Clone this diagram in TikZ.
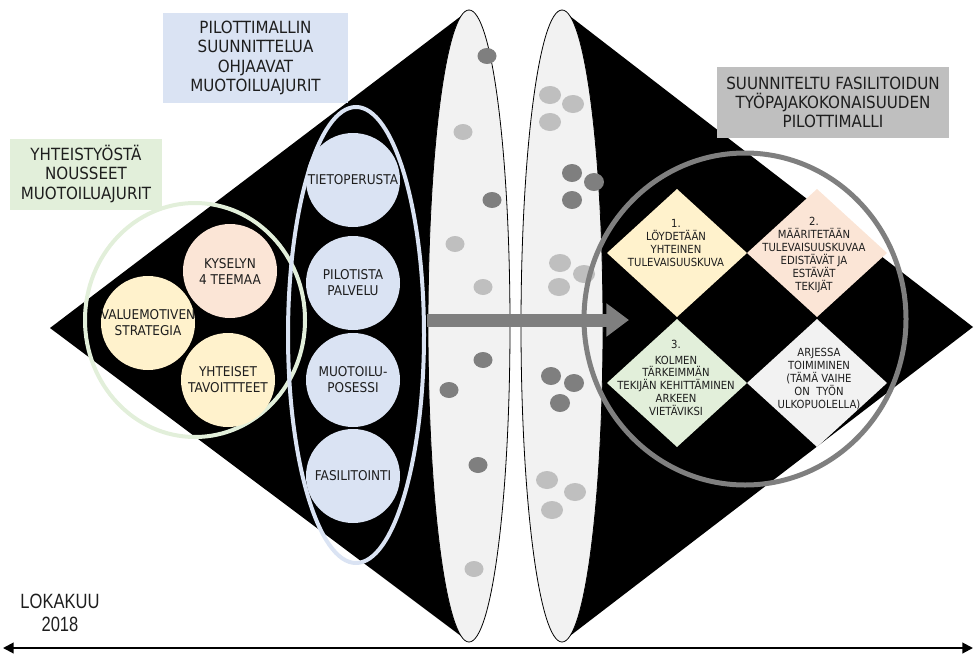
\documentclass[tikz,border=0pt]{standalone}
\usepackage{fontspec}
\setmainfont[FakeStretch=0.9]{DejaVu Sans}
\newfontfamily\narrowfont[FakeStretch=0.8]{Liberation Sans}
\usetikzlibrary{arrows.meta}

\definecolor{txt}{HTML}{1E1E1E}
\definecolor{lgreen}{HTML}{E2EFDA}
\definecolor{lblue}{HTML}{DAE3F3}
\definecolor{lgray}{HTML}{BFBFBF}
\definecolor{lpink}{HTML}{FBE5D6}
\definecolor{lyellow}{HTML}{FFF2CC}
\definecolor{paper}{HTML}{F2F2F2}
\definecolor{dotdark}{HTML}{7F7F7F}
\definecolor{dotlight}{HTML}{BFBFBF}
\definecolor{ringgray}{HTML}{7F7F7F}

% all captions are set in capitals
\newcommand{\caps}[1]{\MakeUppercase{#1}}

\tikzset{
  lbl/.style={font=\fontsize{12.6}{14.5}\selectfont, text=txt, align=center, inner sep=0pt},
  ctxt/.style={font=\fontsize{10.1}{12}\selectfont, text=txt, align=center, inner sep=0pt},
  dtxt/.style={font=\fontsize{8.4}{9.7}\selectfont, text=txt, align=center, inner sep=0pt},
  ball/.style={circle, minimum size=70.5pt, inner sep=0pt},
  darkdot/.style={fill=dotdark},
  lightdot/.style={fill=dotlight},
  band/.style={fill=paper, draw=black, line width=0.6pt},
}

\begin{document}
\begin{tikzpicture}[x=0.75pt, y=-0.75pt]
\useasboundingbox (0,0) rectangle (974,653);

% black halves of the large diamond
\fill[black] (469,10) -- (50,328) -- (469,642) -- cycle;
\fill[black] (562,10) -- (973,327) -- (562,642) -- cycle;

% the two pale vertical bands
\path[band] (469,326) ellipse [x radius=41, y radius=316];
\path[band] (562,326) ellipse [x radius=41, y radius=316];

% dots in the left band
\foreach \p in {(487,56),(492,200),(483,360),(449,390),(478,465)}
  \fill[darkdot] \p ellipse [x radius=9.5, y radius=8];
\foreach \p in {(463,132),(455,244),(483,287),(474,569)}
  \fill[lightdot] \p ellipse [x radius=9.5, y radius=8];
% dots in the right band
\foreach \p in {(550,95),(573,104),(550,122),(560,263),(584,274),(559,287),(547,480),(575,492),(552,510)}
  \fill[lightdot] \p ellipse [x radius=11, y radius=9];
\foreach \p in {(572,173),(594,182),(572,200),(551,376),(574,383),(560,403)}
  \fill[darkdot] \p ellipse [x radius=10, y radius=9];

% collaboration drivers
\draw[lgreen, line width=3pt] (195,320) ellipse [x radius=110, y radius=117];
\node[ball, fill=lpink] (kys) at (230,271) {};
\node[ctxt] at (kys) {\caps{Kyselyn}\\\caps{4 teemaa}};
\node[ball, fill=lyellow] (val) at (148,323) {};
\node[ctxt] at (val) {\caps{Valuemotiven}\\\caps{strategia}};
\node[ball, fill=lyellow] (yht) at (228,380) {};
\node[ctxt] at (yht) {\caps{Yhteiset}\\\caps{tavoittteet}};

% pilot design drivers
\draw[lblue, line width=3pt] (356,335) ellipse [x radius=68, y radius=228];
\node[ball, fill=lblue] (tie) at (353,180) {};
\node[ctxt] at (tie) {\caps{Tietoperusta}};
\node[ball, fill=lblue] (pil) at (353,283) {};
\node[ctxt] at (pil) {\caps{Pilotista}\\\caps{palvelu}};
\node[ball, fill=lblue] (muo) at (353,380) {};
\node[ctxt] at (muo) {\caps{Muotoilu-}\\\caps{posessi}};
\node[ball, fill=lblue] (fas) at (353,476) {};
\node[ctxt] at (fas) {\caps{Fasilitointi}};

% four workshop phases
\fill[lyellow] (607,253) -- (677,189) -- (747,253) -- (677,317) -- cycle;
\fill[lpink]   (747,253) -- (817,189) -- (887,253) -- (817,317) -- cycle;
\fill[lgreen]  (607,383) -- (677,319) -- (747,383) -- (677,447) -- cycle;
\fill[paper]   (747,383) -- (817,319) -- (887,383) -- (817,447) -- cycle;
\node[dtxt] (p1) at (676,243) {1.\\\caps{Löydetään}\\\caps{yhteinen}\\\caps{tulevaisuuskuva}};
\node[dtxt] (p2) at (814,255) {2.\\\caps{Määritetään}\\\caps{tulevaisuuskuvaa}\\\caps{edistävät ja}\\\caps{estävät}\\\caps{tekijät}};
\node[dtxt] (p3) at (676,378) {3.\\[2pt]\caps{Kolmen}\\\caps{tärkeimmän}\\\caps{tekijän kehittäminen}\\\caps{arkeen}\\\caps{vietäviksi}};
\node[dtxt] (p4) at (819,379) {\caps{Arjessa}\\\caps{toimiminen}\\\caps{(tämä vaihe}\\\caps{on\ \ työn}\\\caps{ulkopuolella)}};

% flow arrow into the pilot model
\coordinate (arrS) at (427,320);
\coordinate (arrE) at (629,320);
\draw[ringgray, line width=9.75pt, -{Triangle[length=17pt, width=24pt]}] (arrS) -- (arrE);

% pilot model ring
\draw[ringgray, line width=3.75pt] (745,319) ellipse [x radius=161, y radius=166];

% headings
\node[lbl, fill=lgreen, minimum width=114pt, minimum height=53.25pt] (hg) at (86,174)
  {\caps{Yhteistyöstä}\\\caps{nousseet}\\\caps{muotoiluajurit}};
\node[lbl, fill=lblue, minimum width=138.75pt, minimum height=67.5pt] (hb) at (255.5,58)
  {\caps{Pilottimallin}\\\caps{suunnittelua}\\\caps{ohjaavat}\\\caps{muotoiluajurit}};
\node[lbl, fill=lgray, minimum width=174pt, minimum height=53.25pt] (hy) at (833,102.5)
  {\caps{Suunniteltu fasilitoidun}\\\caps{työpajakokonaisuuden}\\\caps{pilottimalli}};

% time axis
\node[font=\narrowfont\fontsize{15.5}{17.25}\selectfont, text=txt, align=center, inner sep=0pt]
  (date) at (60,613) {\caps{Lokakuu}\\2018};
\coordinate (ax1) at (3,648);
\coordinate (ax2) at (973,648);
\draw[black, line width=1.5pt, {Triangle[length=8pt, width=8pt]}-{Triangle[length=8pt, width=8pt]}] (ax1) -- (ax2);
\end{tikzpicture}
\end{document}
